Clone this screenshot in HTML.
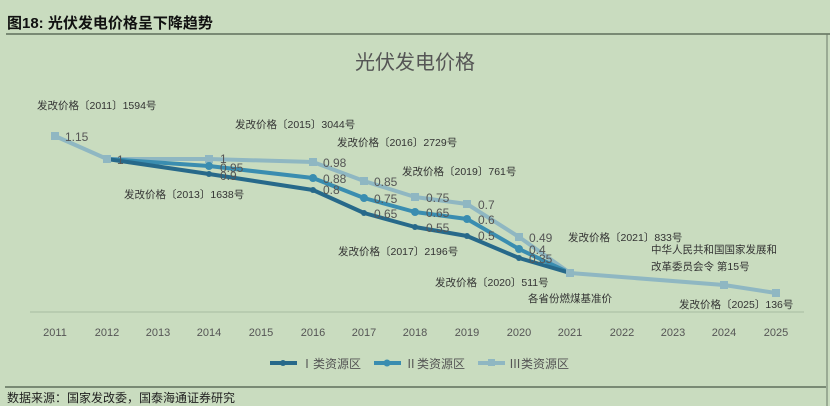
<!DOCTYPE html>
<html><head><meta charset="utf-8"><style>
html,body{margin:0;padding:0;background:#c9dcbf;}
svg{display:block}
text{font-family:"Liberation Sans","Noto Sans CJK SC",sans-serif;}
</style></head><body>
<svg width="830" height="406" viewBox="0 0 830 406" xmlns="http://www.w3.org/2000/svg">
<rect width="830" height="406" fill="#c9dcbf"/>
<text x="7" y="28" font-size="15" font-weight="bold" fill="#111" font-family="Liberation Serif,'Noto Serif CJK SC',serif">图18:  光伏发电价格呈下降趋势</text>
<line x1="6" y1="34" x2="830" y2="34" stroke="#4a5a48" stroke-width="1.2"/>
<line x1="827" y1="34" x2="827" y2="406" stroke="#6a7a68" stroke-width="1"/>
<text x="415" y="69" font-size="20" fill="#555" text-anchor="middle">光伏发电价格</text>
<line x1="30" y1="312" x2="804" y2="312" stroke="#a8bca0" stroke-width="1"/>
<g font-size="11" fill="#555" text-anchor="middle">
<text x="55" y="336">2011</text><text x="107" y="336">2012</text><text x="158" y="336">2013</text><text x="209" y="336">2014</text><text x="261" y="336">2015</text><text x="313" y="336">2016</text><text x="364" y="336">2017</text><text x="415" y="336">2018</text><text x="467" y="336">2019</text><text x="519" y="336">2020</text><text x="570" y="336">2021</text><text x="622" y="336">2022</text><text x="673" y="336">2023</text><text x="724" y="336">2024</text><text x="776" y="336">2025</text>
</g>
<g fill="none" stroke-width="4" stroke-linejoin="round">
<polyline stroke="#8fb7c2" points="55,136 107,159 209,159 313,162 364,181 415,197 467,204 519,237 570,273 724,285 776,293"/>
<polyline stroke="#3a8db0" points="107,159 209,166 313,178 364,198 415,212 467,219 519,249 570,273"/>
<polyline stroke="#27698a" points="107,159 209,174 313,190 364,213 415,227 467,236 519,258 570,273"/>
</g>
<g fill="#8fb7c2"><rect x="51" y="132" width="8" height="8"/><rect x="103" y="155" width="8" height="8"/><rect x="205" y="155" width="8" height="8"/><rect x="309" y="158" width="8" height="8"/><rect x="360" y="177" width="8" height="8"/><rect x="411" y="193" width="8" height="8"/><rect x="463" y="200" width="8" height="8"/><rect x="515" y="233" width="8" height="8"/><rect x="566" y="269" width="8" height="8"/><rect x="720" y="281" width="8" height="8"/><rect x="772" y="289" width="8" height="8"/></g>
<g fill="#3a8db0"><circle cx="209" cy="166" r="4"/><circle cx="313" cy="178" r="4"/><circle cx="364" cy="198" r="4"/><circle cx="415" cy="212" r="4"/><circle cx="467" cy="219" r="4"/><circle cx="519" cy="249" r="4"/></g>
<g fill="#27698a"><circle cx="209" cy="174" r="3"/><circle cx="313" cy="190" r="3"/><circle cx="364" cy="213" r="3"/><circle cx="415" cy="227" r="3"/><circle cx="467" cy="236" r="3"/><circle cx="519" cy="258" r="3"/></g>
<g font-size="12" fill="#555">
<text x="65" y="141">1.15</text><text x="117" y="164">1</text>
<text x="220" y="163">1</text><text x="220" y="172">0.95</text><text x="220" y="180">0.9</text>
<text x="323" y="167">0.98</text><text x="323" y="183">0.88</text><text x="323" y="194">0.8</text>
<text x="374" y="186">0.85</text><text x="374" y="203">0.75</text><text x="374" y="218">0.65</text>
<text x="426" y="202">0.75</text><text x="426" y="217">0.65</text><text x="426" y="232">0.55</text>
<text x="478" y="209">0.7</text><text x="478" y="224">0.6</text><text x="478" y="240">0.5</text>
<text x="529" y="242">0.49</text><text x="529" y="254">0.4</text><text x="529" y="263">0.35</text>
</g>
<g font-size="10.5" fill="#333">
<text x="37" y="109">发改价格〔2011〕1594号</text>
<text x="235" y="128">发改价格〔2015〕3044号</text>
<text x="337" y="146">发改价格〔2016〕2729号</text>
<text x="402" y="175">发改价格〔2019〕761号</text>
<text x="124" y="198">发改价格〔2013〕1638号</text>
<text x="338" y="255">发改价格〔2017〕2196号</text>
<text x="568" y="241">发改价格〔2021〕833号</text>
<text x="651" y="253">中华人民共和国国家发展和</text>
<text x="651" y="270">改革委员会令 第15号</text>
<text x="435" y="286">发改价格〔2020〕511号</text>
<text x="528" y="302">各省份燃煤基准价</text>
<text x="679" y="308">发改价格〔2025〕136号</text>
</g>
<g font-size="12" fill="#555">
<line x1="270" y1="363" x2="297" y2="363" stroke="#27698a" stroke-width="4"/><circle cx="283" cy="363" r="3" fill="#27698a"/>
<text x="301" y="368">Ⅰ类资源区</text>
<line x1="374" y1="363" x2="401" y2="363" stroke="#3a8db0" stroke-width="4"/><circle cx="387" cy="363" r="3.5" fill="#3a8db0"/>
<text x="405" y="368">Ⅱ类资源区</text>
<line x1="478" y1="363" x2="505" y2="363" stroke="#8fb7c2" stroke-width="4"/><rect x="488" y="359" width="7" height="7" fill="#8fb7c2"/>
<text x="509" y="368">Ⅲ类资源区</text>
</g>
<line x1="5" y1="387" x2="826" y2="387" stroke="#4a5a48" stroke-width="1.2"/>
<text x="7" y="402" font-size="12" fill="#222" font-family="Liberation Serif,'Noto Serif CJK SC',serif">数据来源：国家发改委，国泰海通证券研究</text>
</svg>
</body></html>
